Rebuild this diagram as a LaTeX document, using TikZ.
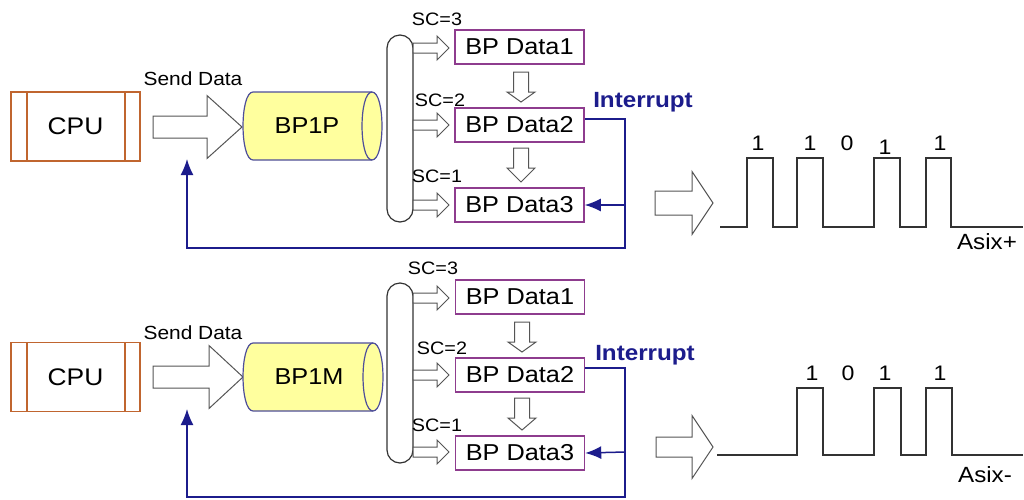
\documentclass[tikz,border=0pt]{standalone}
\usepackage{fontspec}
\setmainfont[FakeStretch=1.1]{Liberation Sans}
\usetikzlibrary{arrows.meta}
\definecolor{cpuc}{HTML}{C0652F}
\definecolor{boxc}{HTML}{8E3C8E}
\definecolor{navy}{HTML}{1C1C8C}
\definecolor{cylf}{HTML}{FFFF9E}
\definecolor{cyld}{HTML}{4E4E9A}
\definecolor{grayc}{HTML}{555555}
\definecolor{wavec}{HTML}{333333}
\newcommand\rarrow[6]{\draw[barr] (#1,{#4-#5}) -- (#2,{#4-#5}) -- (#2,{#4-#6}) -- (#3,#4) -- (#2,{#4+#6}) -- (#2,{#4+#5}) -- (#1,{#4+#5}) -- cycle;}
\newcommand\darrow[6]{\draw[barr] ({#4-#5},#1) -- ({#4-#5},#2) -- ({#4-#6},#2) -- (#4,#3) -- ({#4+#6},#2) -- ({#4+#5},#2) -- ({#4+#5},#1) -- cycle;}
\newcommand\cylpath[4]{({#1+10},{#3-#4}) -- ({#2-10},{#3-#4}) .. controls ({#2+3.3},{#3-#4}) and ({#2+3.3},{#3+#4}) .. ({#2-10},{#3+#4}) -- ({#1+10},{#3+#4}) .. controls ({#1-3.3},{#3+#4}) and ({#1-3.3},{#3-#4}) .. cycle}
\newcommand\cyl[4]{% x0 x1 yc halfheight
 \draw[cyld,fill=cylf,line width=1.2pt] \cylpath{#1}{#2}{#3}{#4};
 \draw[cyld,line width=1.2pt] ({#2-10},{#3-#4}) .. controls ({#2-23.3},{#3-#4}) and ({#2-23.3},{#3+#4}) .. ({#2-10},{#3+#4});}
\begin{document}
\begin{tikzpicture}[x=1pt,y=-1pt,
  cpubox/.style={draw=cpuc,line width=1.5pt,minimum width=129pt,minimum height=69pt,inner sep=0pt,font=\fontsize{24}{24}\selectfont},
  dbox/.style={draw=boxc,line width=1.5pt,minimum width=129pt,minimum height=34pt,inner sep=0pt,font=\fontsize{23}{23}\selectfont},
  barr/.style={draw=grayc,fill=white,line width=1pt},
  bus/.style={draw=wavec,line width=1.2pt,rounded corners=13pt},
  bl/.style={draw=navy,line width=1.5pt},
  tip/.style={-{Latex[length=16pt,width=13pt]}},
  wave/.style={draw=wavec,line width=1.3pt},
  sclab/.style={font=\fontsize{18}{18}\selectfont,inner sep=0pt},
  sendlab/.style={font=\fontsize{19}{19}\selectfont,inner sep=0pt},
  intlab/.style={font=\fontsize{22}{22}\selectfont\bfseries,text=navy,inner sep=0pt},
  cyllab/.style={font=\fontsize{23}{23}\selectfont,inner sep=0pt},
  bit/.style={font=\fontsize{21}{21}\selectfont,inner sep=0pt},
  axlab/.style={font=\fontsize{22}{22}\selectfont,inner sep=0pt}]
\useasboundingbox (0,0) rectangle (1024,499);
\fill[white] (0,0) rectangle (1024,499);

% ===================== TOP HALF =====================
\node[cpubox] (cpua) at (75.5,126.5) {CPU};
\draw[cpuc,line width=1.5pt] (27,92) -- (27,161) (125,92) -- (125,161);
\node[sendlab] (senda) at (193,79) {Send Data};
\rarrow{153}{207}{242}{127}{11}{31.5}
\cyl{243}{382}{126}{34}
\node[cyllab] (bpa) at (307,126) {BP1P};
\draw[bus] (387,35) rectangle (413,222);
\rarrow{413}{437}{449}{48}{5}{12}
\rarrow{413}{437}{449}{125}{5}{12}
\rarrow{413}{437}{449}{205}{5}{12}
\node[dbox] (d1a) at (519.5,47) {BP Data1};
\node[dbox] (d2a) at (519.5,125) {BP Data2};
\node[dbox] (d3a) at (519.5,205) {BP Data3};
\darrow{72}{92}{102}{521}{7.5}{14}
\darrow{148}{168}{182}{521}{7.5}{14}
\node[sclab] (sc3a) at (437,19) {SC=3};
\node[sclab] (sc2a) at (440,100) {SC=2};
\node[sclab] (sc1a) at (437,176) {SC=1};
\node[intlab] (inta) at (643,102) {Interrupt};
\coordinate (fba) at (187,159);
\draw[bl,tip] ([yshift=6pt]d2a.east) -| (625,248) -| (fba);
\draw[bl,tip] (625,205) -- (d3a.east);
\rarrow{655}{692}{713}{203}{12}{31.5}
\draw[wave] (720,227) -- (747,227) -- (747,158) -- (773,158) -- (773,227) -- (797,227) -- (797,158) -- (823,158) -- (823,227) -- (874,227) -- (874,158) -- (900,158) -- (900,227) -- (926,227) -- (926,158) -- (951,158) -- (951,227) -- (1023,227);
\node[bit] at (758,143) {1};
\node[bit] at (810,143) {1};
\node[bit] at (847,143) {0};
\node[bit] at (885,147) {1};
\node[bit] at (940,143) {1};
\node[axlab] (axa) at (987,242) {Asix+};

% ===================== BOTTOM HALF =====================
\node[cpubox] (cpub) at (75.5,377) {CPU};
\draw[cpuc,line width=1.5pt] (27,343) -- (27,411) (125,343) -- (125,411);
\node[sendlab] (sendb) at (193,333) {Send Data};
\rarrow{153}{209}{243}{377}{11}{31.5}
\cyl{243}{383}{377}{34}
\node[cyllab] (bpb) at (309,377) {BP1M};
\draw[bus] (387,283) rectangle (413,463);
\rarrow{413}{437}{449}{298}{5}{12}
\rarrow{413}{437}{449}{375}{5}{12}
\rarrow{413}{437}{449}{452}{5}{12}
\node[dbox] (d1b) at (520,297) {BP Data1};
\node[dbox] (d2b) at (520,375) {BP Data2};
\node[dbox] (d3b) at (520,453) {BP Data3};
\darrow{322}{342}{352}{522}{7.5}{14}
\darrow{398}{418}{430}{522}{7.5}{14}
\node[sclab] (sc3b) at (433,268) {SC=3};
\node[sclab] (sc2b) at (442,348) {SC=2};
\node[sclab] (sc1b) at (437,425) {SC=1};
\node[intlab] (intb) at (645,355) {Interrupt};
\coordinate (fbb) at (187,409);
\draw[bl,tip] ([yshift=7pt]d2b.east) -| (625,497) -| (fbb);
\draw[bl,tip] (625,452) -- (d3b.east);
\rarrow{656}{692}{713}{447}{10}{31.5}
\draw[wave] (717,455) -- (797,455) -- (797,388) -- (823,388) -- (823,455) -- (874,455) -- (874,388) -- (901,388) -- (901,455) -- (926,455) -- (926,388) -- (952,388) -- (952,455) -- (1023,455);
\node[bit] at (812,373) {1};
\node[bit] at (848,373) {0};
\node[bit] at (885,373) {1};
\node[bit] at (940,373) {1};
\node[axlab] (axb) at (985,475) {Asix-};
\end{tikzpicture}
\end{document}
